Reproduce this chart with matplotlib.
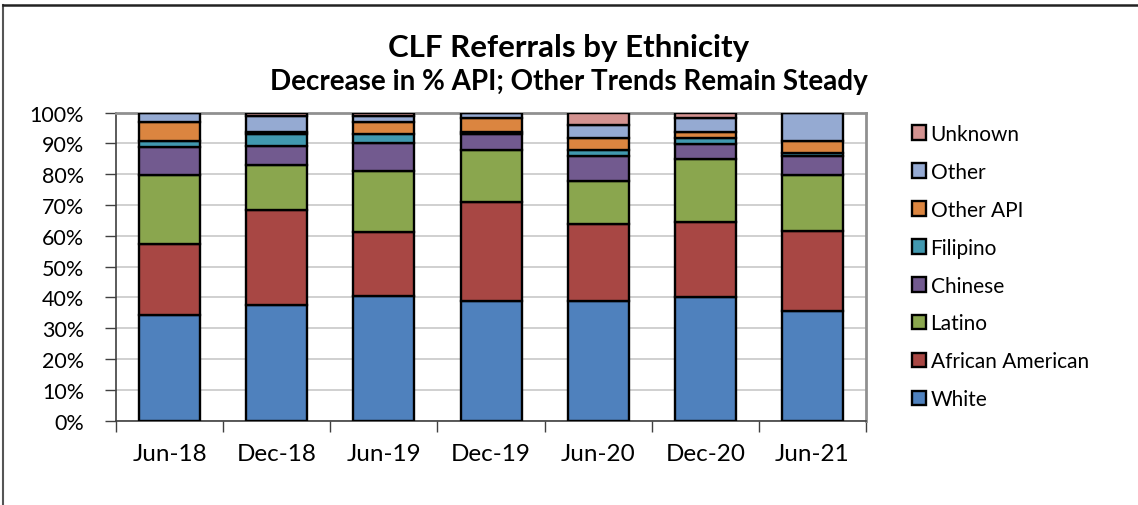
import numpy as np
import matplotlib
matplotlib.use('Agg')
import matplotlib.pyplot as plt
from matplotlib.lines import Line2D
from matplotlib.ticker import FixedLocator, PercentFormatter

plt.rcParams['font.family'] = ['Lato', 'DejaVu Sans']

periods = ['Jun-18', 'Dec-18', 'Jun-19', 'Dec-19', 'Jun-20', 'Dec-20', 'Jun-21']
groups = ['White', 'African American', 'Latino', 'Chinese', 'Filipino',
          'Other API', 'Other', 'Unknown']

white = [34.3, 37.5, 40.5, 39.0, 39.0, 40.3, 35.5]
african_american = [23.2, 30.8, 20.8, 32.0, 24.9, 24.2, 26.1]
latino = [22.2, 14.7, 19.8, 16.9, 14.0, 20.3, 18.1]
chinese = [9.2, 6.1, 9.1, 5.2, 8.0, 5.1, 6.2]
filipino = [1.9, 3.9, 3.0, 0.7, 2.0, 2.0, 0.9]
other_api = [6.2, 0.8, 3.8, 4.3, 4.0, 1.9, 4.0]
other = [3.0, 5.2, 1.9, 1.9, 4.1, 4.3, 9.2]
unknown = [0.0, 1.0, 1.1, 0.0, 4.0, 1.9, 0.0]

colors = ['#4F81BD', '#A84744', '#8AA64E', '#725A8F', '#4198AF',
          '#DB8540', '#95AAD2', '#D39290']

series = [white, african_american, latino, chinese, filipino, other_api, other, unknown]

fig = plt.figure(figsize=(11.38, 5.06), dpi=100)
ax = fig.add_axes([0.102, 0.1666, 0.659, 0.609])

x = np.arange(len(periods))
bottom = np.zeros(len(periods))
handles = []
for vals, name, c in zip(series, groups, colors):
    vals = np.array(vals)
    b = ax.bar(x, vals, 0.57, bottom=bottom, color=c, edgecolor='black',
               linewidth=1.7, label=name, zorder=3)
    handles.append(b)
    bottom += vals

ax.set_xlim(-0.5, len(periods) - 0.5)
ax.set_ylim(0, 100)
ax.set_yticks(np.arange(0, 101, 10))
ax.yaxis.set_major_formatter(PercentFormatter(decimals=0))
ax.yaxis.grid(True, color='#C8C8C8', linewidth=1.2, zorder=0)

ax.xaxis.set_major_locator(FixedLocator(np.arange(-0.5, len(periods), 1)))
ax.xaxis.set_major_formatter(plt.NullFormatter())
ax.xaxis.set_minor_locator(FixedLocator(x))
ax.set_xticklabels(periods, minor=True)
ax.tick_params(axis='x', which='major', length=8, width=1, color='#404040', direction='out')
ax.tick_params(axis='x', which='minor', length=0, pad=16, labelsize=17.5)
ax.tick_params(axis='y', length=8, width=1, color='#404040', direction='out', labelsize=15.5, pad=15)

for s in ['left', 'bottom']:
    ax.spines[s].set_color('#404040')
    ax.spines[s].set_linewidth(1.2)
for s in ['top', 'right']:
    ax.spines[s].set_color('#909090')
    ax.spines[s].set_linewidth(2)

fig.text(0.5, 0.905, 'CLF Referrals by Ethnicity', ha='center', va='center',
         fontsize=22.5, fontweight='bold')
fig.text(0.5, 0.838, 'Decrease in % API; Other Trends Remain Steady', ha='center',
         va='center', fontsize=20, fontweight='bold')

leg = ax.legend(handles[::-1], groups[::-1], loc='center left',
                bbox_to_anchor=(1.05, 0.5), frameon=False, fontsize=15,
                handlelength=0.7, handleheight=0.7, handletextpad=0.2,
                labelspacing=0.86, borderaxespad=0)

fig.add_artist(Line2D([0.003, 0.003], [0, 0.988], color='#555555', linewidth=1.5))
fig.add_artist(Line2D([0.003, 1.0], [0.988, 0.988], color='#222222', linewidth=1.8))

fig.savefig('out.png', dpi=100)
